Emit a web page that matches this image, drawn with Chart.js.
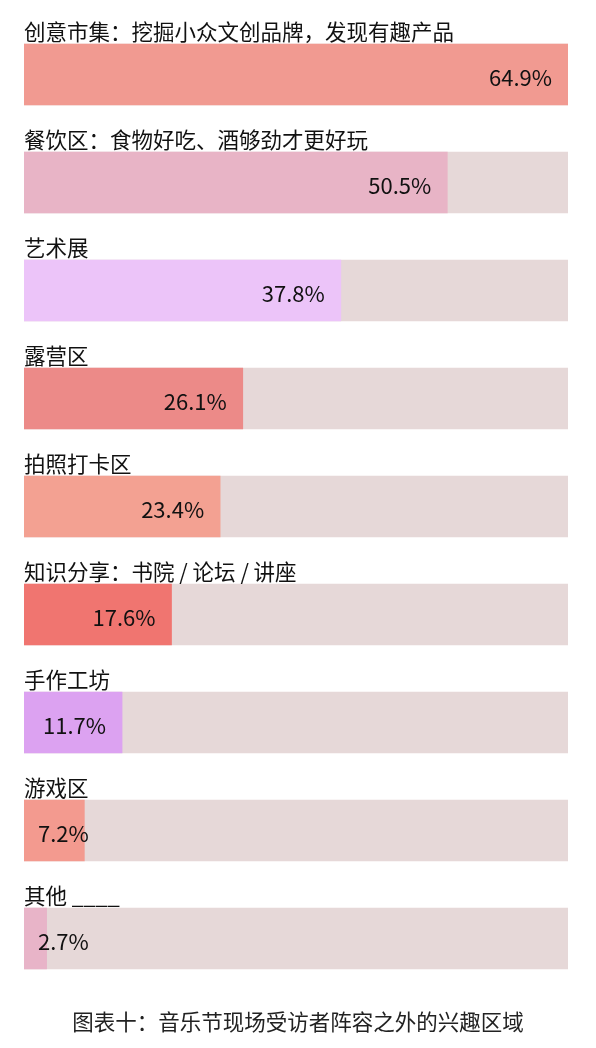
<!DOCTYPE html>
<html lang="zh">
<head>
    <meta charset="UTF-8">
    <title>音乐节现场受访者阵容之外的兴趣区域</title>
    <script src="https://cdn.jsdelivr.net/npm/chart.js"></script>
    <style>
        body {
            margin: 0;
            padding: 0;
            background-color: #fff;
        }
        #wrap {
            width: 596px;
            height: 1048px;
            position: relative;
        }
    </style>
</head>
<body>
<div id="wrap">
    <canvas id="interestChart" width="596" height="1048"></canvas>
</div>
<script>
    // Data
    const categories = [
        '创意市集：挖掘小众文创品牌，发现有趣产品',
        '餐饮区：食物好吃、酒够劲才更好玩',
        '艺术展',
        '露营区',
        '拍照打卡区',
        '知识分享：书院 / 论坛 / 讲座',
        '手作工坊',
        '游戏区',
        '其他 ____'
    ];
    const values = [64.9, 50.5, 37.8, 26.1, 23.4, 17.6, 11.7, 7.2, 2.7];
    const barColors = ['#f19a91', '#e8b4c6', '#ecc4f9', '#ec8a88', '#f3a192', '#f07570', '#dca2f1', '#f39a8f', '#e8b4c8'];
    const caption = '图表十：音乐节现场受访者阵容之外的兴趣区域';

    const maxValue = Math.max(...values);
    const trackValues = categories.map(() => maxValue);

    const FONT = '"Noto Sans CJK SC", "Noto Sans", sans-serif';

    // category names above the bars, value labels inside, caption at the bottom
    const labelPlugin = {
        id: 'labelPlugin',
        afterDatasetsDraw(chart) {
            const ctx = chart.ctx;
            const meta = chart.getDatasetMeta(0);
            ctx.save();
            ctx.fillStyle = '#111';
            meta.data.forEach((bar, i) => {
                const top = bar.y - bar.height / 2;
                ctx.font = '21.5px ' + FONT;
                ctx.textAlign = 'left';
                ctx.textBaseline = 'alphabetic';
                ctx.fillText(categories[i], chart.chartArea.left, top - 4);

                const txt = values[i].toFixed(1) + '%';
                ctx.font = '22px ' + FONT;
                const w = ctx.measureText(txt).width;
                const right = Math.max(bar.x - 16, chart.chartArea.left + 14 + w);
                ctx.textAlign = 'right';
                ctx.textBaseline = 'middle';
                ctx.fillText(txt, right, bar.y + 3);
            });
            ctx.font = '21.5px ' + FONT;
            ctx.fillStyle = '#222';
            ctx.textAlign = 'center';
            ctx.textBaseline = 'middle';
            ctx.fillText(caption, chart.width / 2, 1022);
            ctx.restore();
        }
    };

    new Chart(document.getElementById('interestChart').getContext('2d'), {
        type: 'bar',
        data: {
            labels: categories,
            datasets: [
                {
                    label: '比例',
                    data: values,
                    backgroundColor: barColors,
                    barThickness: 61,
                    grouped: false,
                    order: 0
                },
                {
                    label: 'track',
                    data: trackValues,
                    backgroundColor: '#e6d8d8',
                    barThickness: 61,
                    grouped: false,
                    order: 1
                }
            ]
        },
        options: {
            indexAxis: 'y',
            responsive: false,
            animation: false,
            layout: {
                padding: { left: 24, right: 28, top: 20.5, bottom: 55.5 }
            },
            scales: {
                x: { display: false, min: 0, max: maxValue },
                y: { display: false }
            },
            plugins: {
                legend: { display: false },
                tooltip: { enabled: false }
            }
        },
        plugins: [labelPlugin]
    });
</script>
</body>
</html>
